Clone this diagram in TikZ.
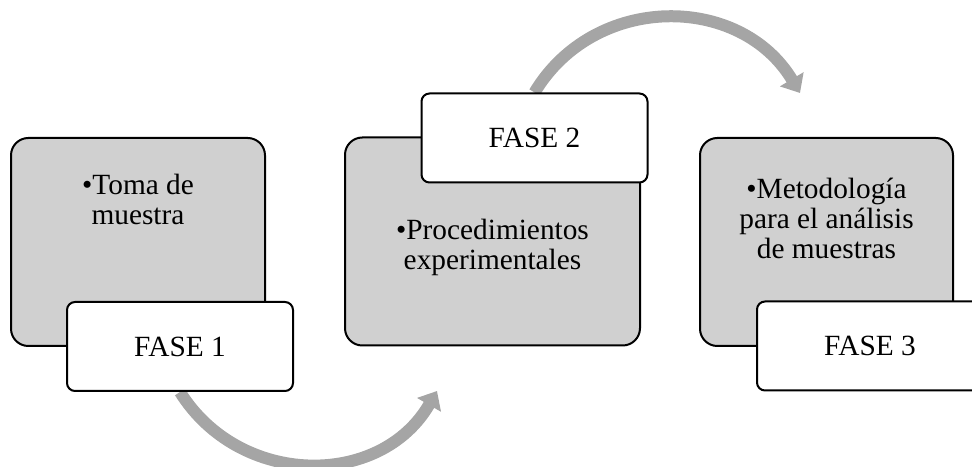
\documentclass[tikz,border=0pt]{standalone}
\usepackage{fontspec}
\setmainfont{Liberation Serif}
\usetikzlibrary{positioning,arrows.meta,backgrounds}
\definecolor{boxgray}{HTML}{D0D0D0}
\definecolor{arrowgray}{HTML}{A5A5A5}
\begin{document}
\begin{tikzpicture}[x=0.75pt, y=0.75pt, font=\fontsize{22}{22.5}\selectfont,
    stagebox/.style={draw, line width=1.5pt, rounded corners=13pt, fill=boxgray,
                     minimum width=190.5pt, minimum height=156pt},
    phaselabel/.style={draw, line width=1.5pt, rounded corners=6pt, fill=white,
                       minimum width=169.5pt, minimum height=66.75pt},
    itemtext/.style={align=center, inner sep=0pt},
    turnarrow/.style={line width=9pt, arrowgray, looseness=1.12,
                      -{Triangle[width=20pt, length=12pt]}}]
    \useasboundingbox (0,0) rectangle (972,467);
    \node[stagebox] (g1) at (138,225) {};
    \node[stagebox, minimum width=221.25pt] (g2) at (492.5,225.5) {};
    \node[stagebox, minimum width=189.75pt] (g3) at (826.5,225) {};
    \node[itemtext, below=28pt of g1.north] (t1) {\textbullet Toma de\\muestra};
    \node[itemtext, below=61.5pt of g2.north] (t2) {\textbullet Procedimientos\\experimentales};
    \node[itemtext, below=30.5pt of g3.north] (t3) {\textbullet Metodología\\para el análisis\\de muestras};
    \node[phaselabel] (l1) at (180,120.5) {FASE 1};
    \node[phaselabel] (l2) at (534.5,329) {FASE 2};
    \node[phaselabel] (l3) at (870,121) {FASE 3};
    \coordinate (e1) at (437,76);
    \coordinate (e2) at (800,374);
    \begin{scope}[on background layer]
      \draw[turnarrow] (l1.south) to[out=-58, in=-120] (e1);
      \draw[turnarrow] (l2.north) to[out=59, in=121] (e2);
    \end{scope}
\end{tikzpicture}
\end{document}
